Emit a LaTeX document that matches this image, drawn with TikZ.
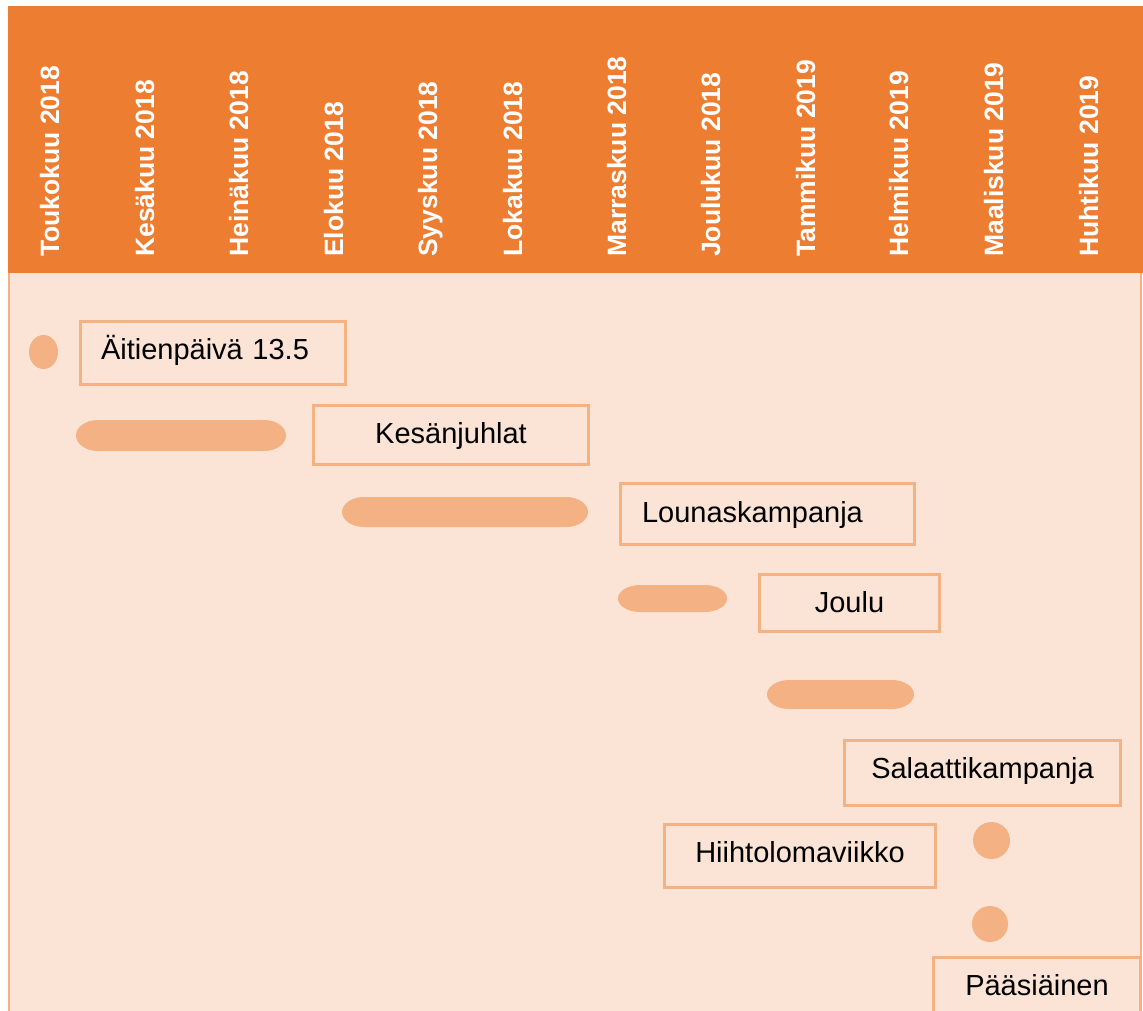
\documentclass[tikz,border=0pt]{standalone}
\usepackage{fontspec}
\setmainfont{Liberation Sans}
\usetikzlibrary{shapes.geometric}
\definecolor{hdr}{HTML}{ED7D31}
\definecolor{bodybg}{HTML}{FBE4D5}
\definecolor{accent}{HTML}{F4B183}
\tikzset{
  month/.style={rotate=90, anchor=base west, inner sep=0pt, text=white,
    font=\fontsize{26.5}{30}\selectfont\bfseries},
  evbox/.style={draw=accent, line width=3pt, inner ysep=0pt, inner xsep=0pt,
    text height=20pt, text depth=7pt, font=\fontsize{29}{33}\selectfont, text=black},
  dotshape/.style={fill=accent, draw=none, inner sep=0pt},
  pillfill/.style={fill=accent, draw=none}
}
\newcommand\pillbar[4]{% x1, x2, yc, h  (y downward)
  \fill[pillfill] ({#2-22},{#3-#4/2}) arc[start angle=90, end angle=-90, x radius=22pt, y radius={#4/2*1pt}]
    -- ({#1+22},{#3+#4/2}) arc[start angle=270, end angle=90, x radius=22pt, y radius={#4/2*1pt}] -- cycle;}
\begin{document}
\begin{tikzpicture}[x=1pt, y=-1pt]
\path[use as bounding box] (0,0) rectangle (1143,1011);
\clip (0,0) rectangle (1143,1011);
% background
\fill[white] (0,0) rectangle (1143,1011);
\fill[bodybg] (8,273) rectangle (1142,1011);
\draw[accent, line width=2pt] (9,273) -- (9,1011);
\draw[accent, line width=2pt] (1141,273) -- (1141,1011);
\fill[hdr] (8,6) rectangle (1143,273);
% months
\node[month] (m1) at (59,257) {Toukokuu 2018};
\node[month] (m2) at (154,257) {Kesäkuu 2018};
\node[month] (m3) at (248,257) {Heinäkuu 2018};
\node[month] (m4) at (343,257) {Elokuu 2018};
\node[month] (m5) at (437,257) {Syyskuu 2018};
\node[month] (m6) at (522,257) {Lokakuu 2018};
\node[month] (m7) at (626,257) {Marraskuu 2018};
\node[month] (m8) at (720,257) {Joulukuu 2018};
\node[month] (m9) at (815,257) {Tammikuu 2019};
\node[month] (m10) at (908,257) {Helmikuu 2019};
\node[month] (m11) at (1003,257) {Maaliskuu 2019};
\node[month] (m12) at (1098,257) {Huhtikuu 2019};
% dots
\node[dotshape, ellipse, minimum width=29pt, minimum height=34pt] (d1) at (43.5,352) {};
\node[dotshape, circle, minimum size=37pt] (d2) at (991.5,840.5) {};
\node[dotshape, circle, minimum size=36pt] (d3) at (990,924) {};
% bars
\pillbar{76}{286}{435.5}{31}
\pillbar{342}{588}{512}{30}
\pillbar{618}{727}{598.5}{27}
\pillbar{767}{914}{694.5}{29}
% event boxes
\node[evbox, inner xsep=20.5pt, text width=224pt, align=left, minimum height=63pt] (b1) at (213,353) {Äitienpäivä 13.5};
\node[evbox, text height=23pt, minimum width=275pt, minimum height=59pt] (b2) at (451,435) {Kesänjuhlat};
\node[evbox, text height=23pt, inner xsep=21.5pt, text width=251pt, align=left, minimum height=61pt] (b3) at (767.5,514) {Lounaskampanja};
\node[evbox, text height=25pt, minimum width=180pt, minimum height=57pt] (b4) at (849.5,603) {Joulu};
\node[evbox, text height=18pt, minimum width=276pt, minimum height=65pt] (b5) at (982.5,773) {Salaattikampanja};
\node[evbox, minimum width=271pt, minimum height=63pt] (b6) at (800,856) {Hiihtolomaviikko};
\node[evbox, minimum width=207pt, minimum height=62pt] (b7) at (1037,988.5) {Pääsiäinen};
\end{tikzpicture}
\end{document}
